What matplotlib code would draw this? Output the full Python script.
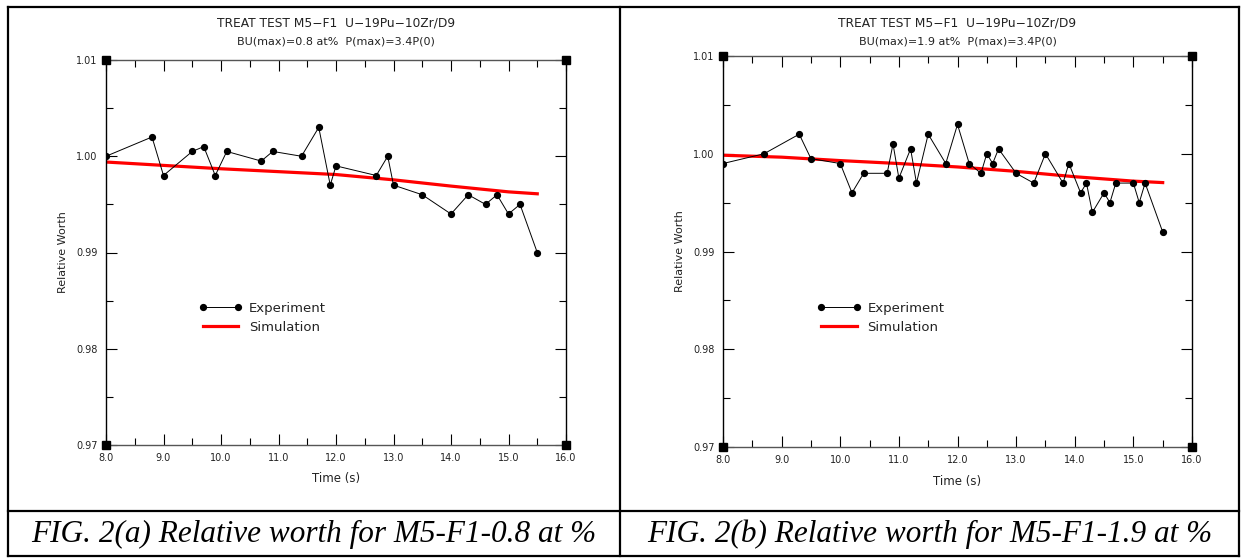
import matplotlib
matplotlib.use("Agg")
import matplotlib.pyplot as plt
from matplotlib.ticker import MultipleLocator, FormatStrFormatter
from matplotlib.lines import Line2D

# ---------------- data ----------------
exp_a_t = [8.0, 8.8, 9.0, 9.5, 9.7, 9.9, 10.1, 10.7, 10.9, 11.4, 11.7, 11.9, 12.0,
           12.7, 12.9, 13.0, 13.5, 14.0, 14.3, 14.6, 14.8, 15.0, 15.2, 15.5]
exp_a_v = [1.000, 1.002, 0.998, 1.0005, 1.001, 0.998, 1.0005, 0.9995, 1.0005, 1.000,
           1.003, 0.997, 0.999, 0.998, 1.000, 0.997, 0.996, 0.994, 0.996, 0.995,
           0.996, 0.994, 0.995, 0.990]
sim_a_t = [8.0, 9.0, 10.0, 11.0, 12.0, 13.0, 14.0, 15.0, 15.5]
sim_a_v = [0.9994, 0.99905, 0.9987, 0.9984, 0.9981, 0.99755, 0.9969, 0.9963, 0.9961]

exp_b_t = [8.0, 8.7, 9.3, 9.5, 10.0, 10.2, 10.4, 10.8, 10.9, 11.0, 11.2, 11.3, 11.5,
           11.8, 12.0, 12.2, 12.4, 12.5, 12.6, 12.7, 13.0, 13.3, 13.5, 13.8, 13.9,
           14.1, 14.2, 14.3, 14.5, 14.6, 14.7, 15.0, 15.1, 15.2, 15.5]
exp_b_v = [0.999, 1.000, 1.002, 0.9995, 0.999, 0.996, 0.998, 0.998, 1.001, 0.9975,
           1.0005, 0.997, 1.002, 0.999, 1.003, 0.999, 0.998, 1.000, 0.999, 1.0005,
           0.998, 0.997, 1.000, 0.997, 0.999, 0.996, 0.997, 0.994, 0.996, 0.995,
           0.997, 0.997, 0.995, 0.997, 0.992]
sim_b_t = [8.0, 9.0, 10.0, 11.0, 12.0, 13.0, 14.0, 15.0, 15.5]
sim_b_v = [0.99985, 0.99965, 0.9993, 0.9990, 0.99865, 0.9982, 0.99765, 0.9972, 0.99705]

title_line1 = "TREAT TEST M5\u2212F1  U\u221219Pu\u221210Zr/D9"
subtitles = ["BU(max)=0.8 at%  P(max)=3.4P(0)", "BU(max)=1.9 at%  P(max)=3.4P(0)"]
captions = ["FIG. 2(a) Relative worth for M5-F1-0.8 at %",
            "FIG. 2(b) Relative worth for M5-F1-1.9 at %"]
x_label = "Time (s)"
y_label = "Relative Worth"
legend_labels = ["Experiment", "Simulation"]

# ---------------- figure ----------------
W, H = 1245, 558
fig = plt.figure(figsize=(W / 100, H / 100), dpi=100)
plt.rcParams['font.family'] = ['DejaVu Sans']

def fx(px):
    return px / W

def fy(py):
    return 1 - py / H

# table borders
border_kw = dict(color='black', lw=1.6, transform=fig.transFigure, clip_on=False)
fig.add_artist(Line2D([fx(8), fx(1239)], [fy(7), fy(7)], **border_kw))
fig.add_artist(Line2D([fx(8), fx(1239)], [fy(511), fy(511)], **border_kw))
fig.add_artist(Line2D([fx(8), fx(1239)], [fy(556), fy(556)], **border_kw))
for xp in (8, 620, 1239):
    fig.add_artist(Line2D([fx(xp), fx(xp)], [fy(7), fy(556)], **border_kw))

panels = [
    dict(rect=(106, 60, 566, 445), et=exp_a_t, ev=exp_a_v, st=sim_a_t, sv=sim_a_v,
         ylpad=6, xlpad=6),
    dict(rect=(723, 56, 1192, 447), et=exp_b_t, ev=exp_b_v, st=sim_b_t, sv=sim_b_v,
         ylpad=6, xlpad=7),
]

for i, p in enumerate(panels):
    x0, y0, x1, y1 = p['rect']
    ax = fig.add_axes([fx(x0), fy(y1), (x1 - x0) / W, (y1 - y0) / H])
    ax.set_xlim(8.0, 16.0)
    ax.set_ylim(0.97, 1.01)
    ax.plot(p['st'], p['sv'], color='#ff0000', lw=2.3, label=legend_labels[1], zorder=2)
    ax.plot(p['et'], p['ev'], color='black', lw=0.7, marker='o', ms=4.2,
            mfc='black', mec='black', label=legend_labels[0], zorder=3)
    for s in ax.spines.values():
        s.set_color('#555555')
        s.set_linewidth(1.0)
    ax.spines['left'].set_color('black')
    ax.spines['right'].set_color('black')
    ax.xaxis.set_major_locator(MultipleLocator(1.0))
    ax.xaxis.set_minor_locator(MultipleLocator(0.5))
    ax.yaxis.set_major_locator(MultipleLocator(0.01))
    ax.yaxis.set_minor_locator(MultipleLocator(0.005))
    ax.xaxis.set_major_formatter(FormatStrFormatter('%.1f'))
    ax.yaxis.set_major_formatter(FormatStrFormatter('%.2f'))
    ax.tick_params(which='both', direction='in', top=True, right=True,
                   colors='black', labelcolor='#222222', labelsize=7)
    ax.tick_params(which='major', length=8, width=0.8)
    ax.tick_params(which='minor', length=5, width=0.8)
    ax.tick_params(axis='x', which='major', pad=6)
    ax.tick_params(axis='y', which='major', pad=6)
    ax.set_xlabel(x_label, fontsize=8.5, labelpad=p['xlpad'], color='#222222')
    ax.set_ylabel(y_label, fontsize=8, labelpad=p['ylpad'], color='#222222')
    # corner squares
    for cx, cy in [(0, 0), (1, 0), (0, 1), (1, 1)]:
        ax.plot([cx], [cy], marker='s', ms=5.5, color='black', transform=ax.transAxes,
                clip_on=False, zorder=5)
    lines = ax.get_lines()[:2]
    leg = ax.legend(handles=[lines[1], lines[0]],
                    loc='upper left', bbox_to_anchor=(0.19, 0.385), frameon=False,
                    numpoints=2, handlelength=3.3, fontsize=9.5, handletextpad=0.5,
                    labelspacing=0.45, borderaxespad=0)
    for t in leg.get_texts():
        t.set_color('#222222')
    cx = (x0 + x1) / 2
    fig.text(fx(cx), fy(23), title_line1, ha='center', va='center', fontsize=8.8,
             color='#222222')
    fig.text(fx(cx), fy(41), subtitles[i], ha='center', va='center', fontsize=8.0,
             color='#222222')

for i, cap in enumerate(captions):
    cxp = (8 + 620) / 2 if i == 0 else (620 + 1239) / 2
    fig.text(fx(cxp), fy(534), cap, ha='center', va='center', fontsize=22.5,
             family=['Liberation Serif'], style='italic', color='black')

fig.savefig('out.png', dpi=100)
